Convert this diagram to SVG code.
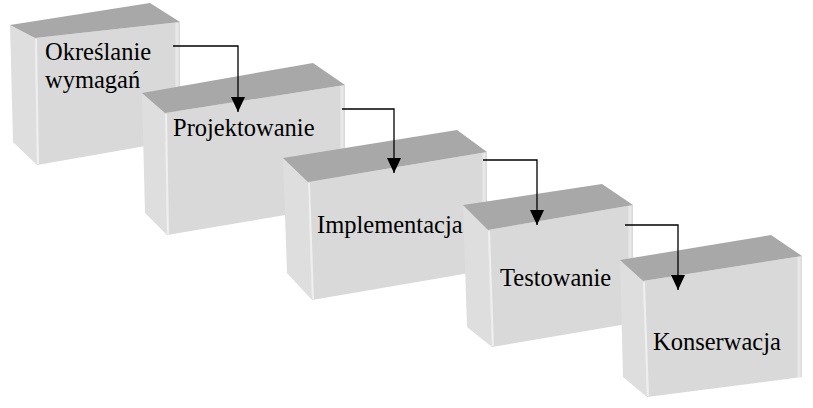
<svg xmlns="http://www.w3.org/2000/svg" width="813" height="408" viewBox="0 0 813 408">
<defs>
<style>
.top{fill:#a8a8a8}
.front{fill:#d9d9d9}
.side{fill:#dedede}
.hl{stroke:#efefef;stroke-width:2;fill:none}
.hr{stroke:#e8e8e8;stroke-width:3;fill:none}
.lbl{font-family:"Liberation Serif","Times New Roman",serif;font-size:24.5px;fill:#000}
.con{fill:none;stroke:#000;stroke-width:1.3}
</style>
<marker id="arr" markerUnits="userSpaceOnUse" markerWidth="16" markerHeight="14" refX="15" refY="7" orient="auto">
<path d="M0,0 L15,7 L0,14 z" fill="#000"/>
</marker>
</defs>
<rect width="813" height="408" fill="#fff"/>
<g id="node1">
<polygon class="side" points="10,25 35,38 37,165 13,142"/>
<polygon class="front" points="35,38 180,22 180,140 37,165"/>
<polygon class="top" points="10,25 150,3 180,22 35,38"/>
<line class="hl" x1="36" y1="39" x2="38" y2="164"/>
<line class="hr" x1="177" y1="23" x2="177" y2="140"/>
<text class="lbl" x="45" y="60">Określanie</text>
<text class="lbl" x="45" y="88">wymagań</text>
</g>
<g id="node2">
<polygon class="side" points="142,93 165,113 167,235 145,213"/>
<polygon class="front" points="165,113 345,85 345,205 167,235"/>
<polygon class="top" points="142,93 313,63 345,85 165,113"/>
<line class="hl" x1="166" y1="114" x2="168" y2="234"/>
<line class="hr" x1="342" y1="86" x2="342" y2="205"/>
<text class="lbl" x="173" y="136">Projektowanie</text>
</g>
<g id="node3">
<polygon class="side" points="283,158 308,182 312,300 287,273"/>
<polygon class="front" points="308,182 487,152 487,270 312,300"/>
<polygon class="top" points="283,158 457,130 487,152 308,182"/>
<line class="hl" x1="309" y1="183" x2="313" y2="299"/>
<line class="hr" x1="484" y1="153" x2="484" y2="270"/>
<text class="lbl" x="317" y="233">Implementacja</text>
</g>
<g id="node4">
<polygon class="side" points="463,205 488,230 492,347 467,327"/>
<polygon class="front" points="488,230 633,205 633,323 492,347"/>
<polygon class="top" points="463,205 602,184 633,205 488,230"/>
<line class="hl" x1="489" y1="231" x2="493" y2="346"/>
<line class="hr" x1="630" y1="206" x2="630" y2="323"/>
<text class="lbl" x="500" y="286">Testowanie</text>
</g>
<g id="node5">
<polygon class="side" points="620,260 643,281 647,397 623,377"/>
<polygon class="front" points="643,281 802,256 802,377 647,397"/>
<polygon class="top" points="620,260 771,235 802,256 643,281"/>
<line class="hl" x1="644" y1="282" x2="648" y2="396"/>
<line class="hr" x1="799" y1="257" x2="799" y2="377"/>
<text class="lbl" x="653" y="350">Konserwacja</text>
</g>
<g id="connectors">
<polyline class="con" points="173,46 238,46 238,112" marker-end="url(#arr)"/>
<polyline class="con" points="342,109 394,109 394,173" marker-end="url(#arr)"/>
<polyline class="con" points="483,160 537,160 537,225" marker-end="url(#arr)"/>
<polyline class="con" points="625,225 678,225 678,290" marker-end="url(#arr)"/>
</g>
</svg>
